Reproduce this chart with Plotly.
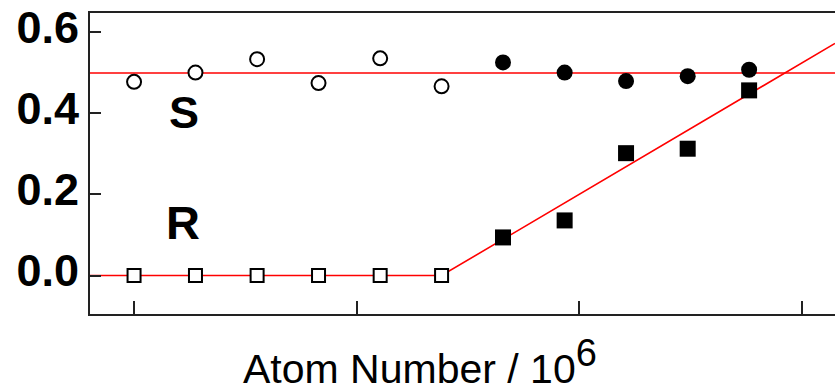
import plotly.graph_objects as go

# Data (atom number in units of 10^6)
x_pts = [0.0, 0.276, 0.553, 0.829, 1.106, 1.382, 1.658, 1.935, 2.211, 2.488, 2.764]
s_vals = [0.478, 0.501, 0.534, 0.475, 0.536, 0.467, 0.526, 0.501, 0.480, 0.492, 0.508]
r_vals = [0.0, 0.0, 0.0, 0.0, 0.0, 0.0, 0.094, 0.136, 0.302, 0.313, 0.457]
n_open = 6  # first six points are open markers

# Fit lines
s_fit_x = [-0.2, 3.2]
s_fit_y = [0.5, 0.5]
r_fit_x = [-0.2, 1.382, 3.15]
r_fit_y = [0.0, 0.0, 0.573]

y_ticks = [0.0, 0.2, 0.4, 0.6]
y_ticktext = ["0.0", "0.2", "0.4", "0.6"]
x_ticks = [0, 1, 2, 3]

fig = go.Figure()
red = "#ff0000"
fig.add_trace(go.Scatter(x=s_fit_x, y=s_fit_y, mode="lines", line=dict(color=red, width=1.6), hoverinfo="skip"))
fig.add_trace(go.Scatter(x=r_fit_x, y=r_fit_y, mode="lines", line=dict(color=red, width=1.6), hoverinfo="skip"))

fig.add_trace(go.Scatter(x=x_pts[:n_open], y=s_vals[:n_open], mode="markers",
                         marker=dict(symbol="circle", size=14, color="white", line=dict(color="black", width=2))))
fig.add_trace(go.Scatter(x=x_pts[n_open:], y=s_vals[n_open:], mode="markers",
                         marker=dict(symbol="circle", size=16, color="black", line=dict(width=0))))
fig.add_trace(go.Scatter(x=x_pts[:n_open], y=r_vals[:n_open], mode="markers",
                         marker=dict(symbol="square", size=13, color="white", line=dict(color="black", width=2))))
fig.add_trace(go.Scatter(x=x_pts[n_open:], y=r_vals[n_open:], mode="markers",
                         marker=dict(symbol="square", size=16, color="black", line=dict(width=0))))

fig.add_annotation(x=0.225, y=0.403, xref="x", yref="y", text="<b>S</b>", showarrow=False,
                   font=dict(family="Liberation Sans", size=45, color="black"))
fig.add_annotation(x=0.222, y=0.13, xref="x", yref="y", text="<b>R</b>", showarrow=False,
                   font=dict(family="Liberation Sans", size=47, color="black"))
fig.add_annotation(x=(420 - 90) / 745, y=-0.052, xref="paper", yref="paper",
                   text="Atom Number / 10<sup><span style=\"font-size:38px\">6</span></sup>",
                   showarrow=False, xanchor="center", yanchor="top",
                   font=dict(family="Liberation Sans", size=41, color="black"))

fig.update_layout(
    width=835, height=385,
    margin=dict(l=90, r=0, t=13, b=71),
    paper_bgcolor="white", plot_bgcolor="white",
    showlegend=False,
    xaxis=dict(range=[-0.198, 3.15], tickvals=x_ticks, showticklabels=False,
               ticks="inside", ticklen=13, tickwidth=1.5, tickcolor="#222",
               showline=True, linecolor="#222", linewidth=2, mirror=True,
               showgrid=False, zeroline=False),
    yaxis=dict(range=[-0.095, 0.648], tickvals=y_ticks, ticktext=y_ticktext,
               ticks="inside", ticklen=11, tickwidth=1.5, tickcolor="#222",
               ticklabelshift=-5,
               tickfont=dict(family="Liberation Sans", size=45, color="black", weight="bold"),
               showline=True, linecolor="#222", linewidth=2, mirror=False,
               showgrid=False, zeroline=False),
)
fig.write_html("out.html")
